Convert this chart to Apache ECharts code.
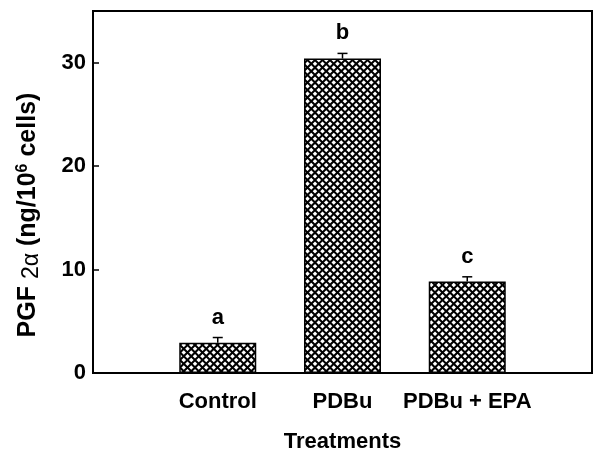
<!DOCTYPE html>
<html>
<head>
<meta charset="utf-8">
<script src="https://cdn.jsdelivr.net/npm/echarts@6/dist/echarts.min.js"></script>
<style>
  html, body { margin: 0; padding: 0; background: #fff; }
  #main { width: 594px; height: 454px; }
</style>
</head>
<body>
<div id="main"></div>
<script>
var categories = ['Control', 'PDBu', 'PDBu + EPA'];
var positions = [1, 2, 3];
var means = [2.93, 30.4, 8.85];
var errors = [0.5, 0.5, 0.45];
var letters = ['a', 'b', 'c'];
var yTicks = [0, 10, 20, 30];

var font = '"Liberation Sans", Arial, sans-serif';

var dom = document.getElementById('main');
var myChart = echarts.init(dom, null, { renderer: 'canvas' });

// crosshatch fill for the bars (period 7.5px, tile holds two periods)
var tile = 15, step = 7.5;
var pc = document.createElement('canvas');
pc.width = tile;
pc.height = tile;
var g = pc.getContext('2d');
g.fillStyle = '#fff';
g.fillRect(0, 0, tile, tile);
g.strokeStyle = '#000';
g.lineWidth = 2;
for (var k = -tile; k <= tile; k += step) {
  g.beginPath();
  g.moveTo(k, 0); g.lineTo(k + tile, tile);
  g.moveTo(k + tile, 0); g.lineTo(k, tile);
  g.stroke();
}

var barData = positions.map(function (p, i) { return [p, means[i]]; });
var errData = positions.map(function (p, i) { return [p, means[i], means[i] + errors[i]]; });

var option = {
  animation: false,
  grid: {
    left: 93, right: 2, top: 11, bottom: 81,
    outerBoundsMode: 'none',
    containLabel: false,
    show: true, borderColor: '#000', borderWidth: 2
  },
  xAxis: {
    type: 'value',
    min: 0, max: 4, interval: 1,
    splitLine: { show: false },
    axisTick: { show: false },
    axisLine: { lineStyle: { color: '#000', width: 2 } },
    axisLabel: {
      margin: 18,
      color: '#000',
      fontFamily: font, fontWeight: 'bold', fontSize: 22,
      formatter: function (v) {
        var i = positions.indexOf(v);
        return i >= 0 ? categories[i] : '';
      }
    },
    name: 'Treatments',
    nameLocation: 'middle',
    nameGap: 58,
    nameTextStyle: { color: '#000', fontFamily: font, fontWeight: 'bold', fontSize: 22 }
  },
  yAxis: {
    type: 'value',
    min: 0, max: 35, interval: 10,
    splitLine: { show: false },
    axisLine: { lineStyle: { color: '#000', width: 2 } },
    axisTick: { inside: true, length: 6, lineStyle: { color: '#000', width: 1.5 } },
    axisLabel: {
      margin: 7,
      color: '#000',
      fontFamily: font, fontWeight: 'bold', fontSize: 22,
      formatter: function (v) { return yTicks.indexOf(v) >= 0 ? String(v) : ''; }
    }
  },
  graphic: [{
    type: 'text',
    x: 28, y: 215,
    rotation: Math.PI / 2,
    style: {
      text: '{b|PGF }{s|2α}{b| (ng/10}{sup|6}{b| cells)}',
      align: 'center',
      verticalAlign: 'middle',
      rich: {
        b: { fontFamily: font, fontWeight: 'bold', fontSize: 25, fill: '#000' },
        s: { fontFamily: font, fontSize: 23, fill: '#000', padding: [7, 0, 0, 0] },
        sup: { fontFamily: font, fontWeight: 'bold', fontSize: 16, fill: '#000', padding: [0, 0, 11, 0] }
      }
    }
  }],
  series: [
    {
      type: 'bar',
      data: barData,
      barWidth: 77,
      itemStyle: {
        color: { image: pc, repeat: 'repeat' },
        borderColor: '#000',
        borderWidth: 1.5
      },
      z: 2
    },
    {
      type: 'custom',
      data: errData,
      z: 3,
      renderItem: function (params, api) {
        var x = api.value(0);
        var p0 = api.coord([x, api.value(1)]);
        var p1 = api.coord([x, api.value(2)]);
        var half = 5;
        return {
          type: 'group',
          children: [
            { type: 'line', shape: { x1: p0[0], y1: p0[1], x2: p1[0], y2: p1[1] },
              style: { stroke: '#000', lineWidth: 1.5 } },
            { type: 'line', shape: { x1: p1[0] - half, y1: p1[1], x2: p1[0] + half, y2: p1[1] },
              style: { stroke: '#000', lineWidth: 1.5 } },
            { type: 'text', x: p1[0], y: p1[1] - 9,
              style: { text: letters[params.dataIndex], align: 'center', verticalAlign: 'bottom',
                       font: 'bold 22px ' + font, fill: '#000' } }
          ]
        };
      }
    }
  ]
};

myChart.setOption(option);
</script>
</body>
</html>
